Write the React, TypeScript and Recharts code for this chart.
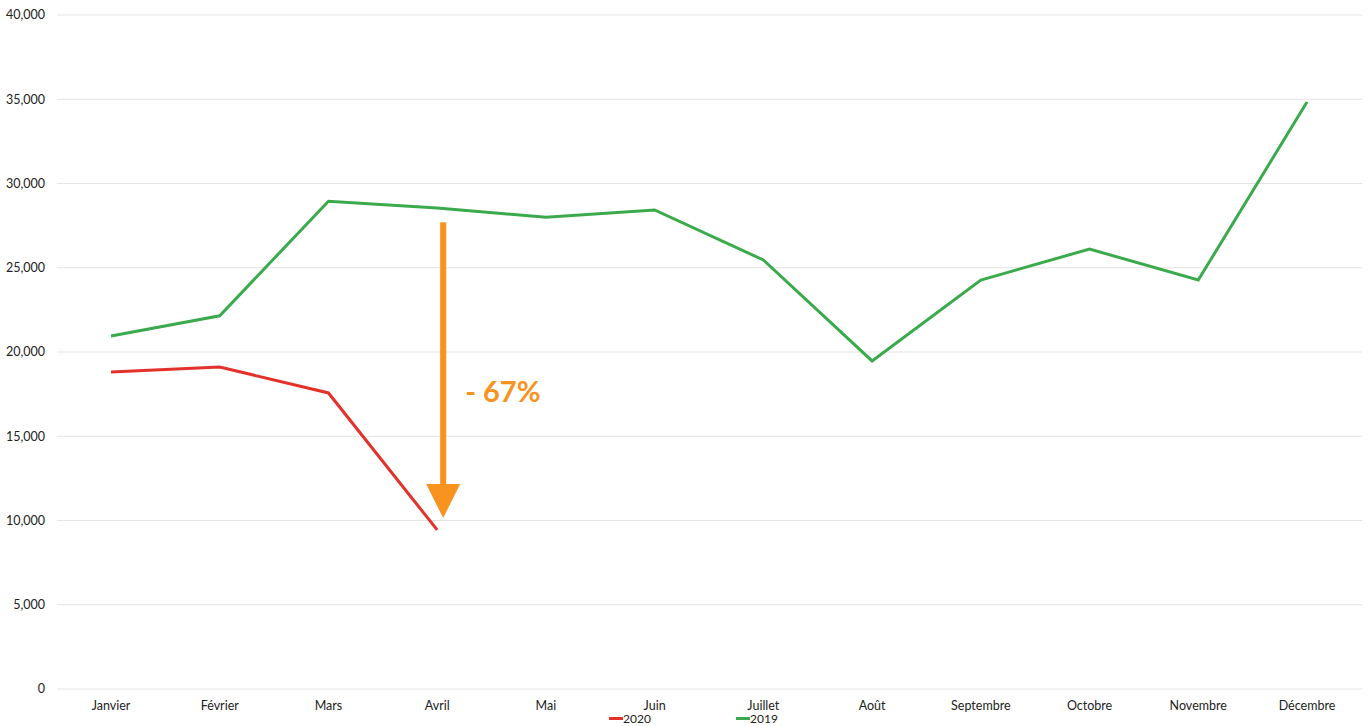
import { CartesianGrid, Legend, Line, LineChart, ReferenceLine, XAxis, YAxis } from "recharts";

const months = ["Janvier", "Février", "Mars", "Avril", "Mai", "Juin", "Juillet", "Août", "Septembre", "Octobre", "Novembre", "Décembre"];
const sales2019 = [20950, 22150, 28950, 28550, 28000, 28430, 25460, 19470, 24270, 26110, 24270, 34840];
const sales2020 = [18810, 19110, 17570, 9440];
const yTicks = [0, 5000, 10000, 15000, 20000, 25000, 30000, 35000, 40000];
const dropLabel = "- 67%";
const dropFrom = 27700;
const dropTo = 10150;

const data = months.map((m, i) => ({
  month: m,
  y2019: sales2019[i],
  y2020: i < sales2020.length ? sales2020[i] : null,
}));

const ORANGE = "#F7931E";
const font = "Lato, 'Open Sans', sans-serif";

function DropArrow(props: any) {
  const { x1, y1, y2 } = props;
  const x = x1 + 6;
  const head = 34;
  const shaftW = 6;
  const headW = 34;
  const path = [
    `M${x - shaftW / 2},${y1}`,
    `L${x + shaftW / 2},${y1}`,
    `L${x + shaftW / 2},${y2 - head}`,
    `L${x + headW / 2},${y2 - head}`,
    `L${x},${y2}`,
    `L${x - headW / 2},${y2 - head}`,
    `L${x - shaftW / 2},${y2 - head}`,
    "Z",
  ].join(" ");
  return (
    <g>
      <path d={path} fill={ORANGE} />
      <text x={x + 22} y={402} fill={ORANGE} fontSize={29} fontWeight={700} fontFamily={font}>
        {dropLabel}
      </text>
    </g>
  );
}

function LegendBox() {
  const item = (color: string, label: string, left: number) => (
    <div style={{ position: "absolute", left, top: 2, display: "flex", alignItems: "center", height: 15, lineHeight: "15px" }}>
      <span style={{ display: "inline-block", width: 14, height: 3, background: color }} />
      <span style={{ fontSize: 12, color: "#222", fontFamily: font }}>{label}</span>
    </div>
  );
  return (
    <div style={{ position: "relative", width: 1368, height: 17 }}>
      {item("#E3312B", "2020", 609)}
      {item("#3BAA4C", "2019", 736)}
    </div>
  );
}

export default function App() {
  return (
    <div style={{ position: "absolute", left: 0, top: 0, width: 1368, height: 726, background: "#fff" }}>
      <LineChart width={1368} height={726} data={data} margin={{ top: 15, right: 6, bottom: 0, left: 0 }}>
        <CartesianGrid vertical={false} stroke="#e3e3e3" strokeWidth={1} />
        <XAxis
          dataKey="month"
          axisLine={false}
          tickLine={false}
          tickSize={0}
          tickMargin={12}
          height={20}
          interval={0}
          padding={{ left: 54, right: 55 }}
          tick={{ fontSize: 12.5, fill: "#222", fontFamily: font }}
        />
        <YAxis
          width={57}
          domain={[0, 40000]}
          ticks={yTicks}
          axisLine={false}
          tickLine={false}
          tickSize={0}
          tickMargin={12}
          tickFormatter={(v: number) => v.toLocaleString("en-US")}
          tick={{ fontSize: 12.5, fill: "#222", fontFamily: font }}
        />
        <Legend verticalAlign="bottom" height={17} wrapperStyle={{ left: 0, width: 1368 }} content={() => <LegendBox />} />
        <Line dataKey="y2020" name="2020" stroke="#E3312B" strokeWidth={3} dot={false} isAnimationActive={false} />
        <Line dataKey="y2019" name="2019" stroke="#3BAA4C" strokeWidth={3} dot={false} isAnimationActive={false} />
        <ReferenceLine
          segment={[
            { x: "Avril", y: dropFrom },
            { x: "Avril", y: dropTo },
          ]}
          shape={(p: any) => <DropArrow {...p} />}
        />
      </LineChart>
    </div>
  );
}
